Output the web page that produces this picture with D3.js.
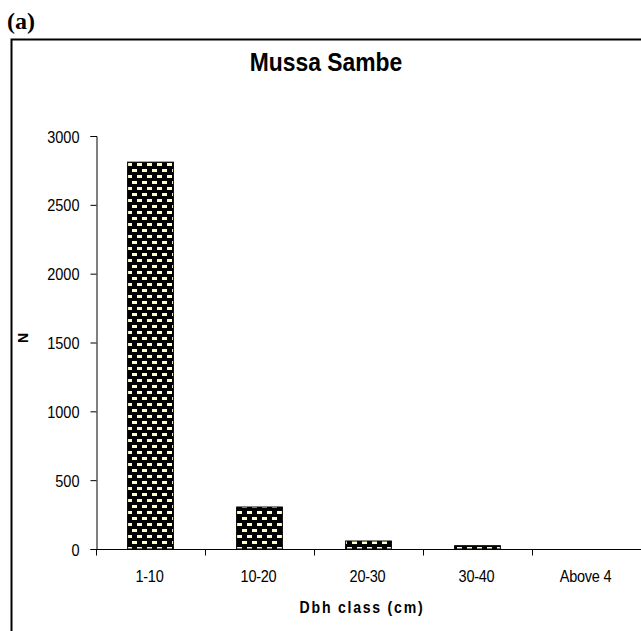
<!DOCTYPE html>
<html><head><meta charset="utf-8">
<script src="https://cdn.jsdelivr.net/npm/d3@7"></script>
<style>body{margin:0;background:#fff}svg{display:block}</style>
</head><body>
<script>
const categories = ["1-10", "10-20", "20-30", "30-40", "Above 4"];
const values = [2810, 305, 58, 24, 0];
const yTicks = [0, 500, 1000, 1500, 2000, 2500, 3000];
const title = "Mussa Sambe";
const xTitle = "Dbh class (cm)";
const yTitle = "N";
const panel = "(a)";

const W = 641, H = 631;
const SX = 0.88;
const svg = d3.select("body").append("svg").attr("width", W).attr("height", H);

function txt(parent, x, y, str, o) {
  const g = parent.append("g").attr("transform", `translate(${x},${y}) ${o.rot ? "rotate(" + o.rot + ")" : ""} scale(${o.sx == null ? SX : o.sx},1)`);
  return g.append("text").text(str)
    .attr("text-anchor", o.anchor || "middle")
    .attr("font-family", o.family || "Liberation Sans")
    .attr("font-weight", o.bold ? "bold" : "normal")
    .attr("font-size", o.size)
    .style("letter-spacing", (o.ls || 0) + "px")
    .attr("fill", "#000");
}

const defs = svg.append("defs");
const pat = defs.append("pattern").attr("id", "brick").attr("patternUnits", "userSpaceOnUse")
  .attr("width", 10).attr("height", 12);
pat.append("rect").attr("width", 10).attr("height", 12).attr("fill", "#000");
pat.append("rect").attr("x", 2).attr("y", 1).attr("width", 5).attr("height", 3).attr("fill", "#ffffcc");
pat.append("rect").attr("x", 7).attr("y", 7).attr("width", 5).attr("height", 3).attr("fill", "#ffffcc");
pat.append("rect").attr("x", -3).attr("y", 7).attr("width", 5).attr("height", 3).attr("fill", "#ffffcc");

// frame
svg.append("path").attr("d", "M11.5,660 V39.5 H660").attr("fill", "none").attr("stroke", "#000").attr("stroke-width", 2);

txt(svg, 7, 29, panel, {anchor: "start", family: "Liberation Serif", bold: true, size: 24, sx: 1});

const x0 = 96, x1 = 641, yTop = 136, yBot = 549;
const x = d3.scaleBand().domain(categories).range([x0, x0 + 109 * 5]).paddingInner(0.58).paddingOuter(0.29);
const y = d3.scaleLinear().domain([0, 3000]).range([yBot, yTop]);

txt(svg, 326, 71, title, {bold: true, size: 26});

// bars
svg.append("g").selectAll("rect").data(values).join("rect")
  .attr("x", (d, i) => x(categories[i]))
  .attr("width", x.bandwidth())
  .attr("y", d => y(d))
  .attr("height", d => yBot - y(d))
  .attr("fill", "url(#brick)")
  .attr("stroke", d => d > 0 ? "#000" : "none").attr("stroke-width", 1);

// y axis
const ya = svg.append("g").attr("transform", `translate(${x0 + 0.5},0)`)
  .call(d3.axisLeft(y).tickValues(yTicks).tickSize(6).tickFormat(""));
ya.select(".domain").attr("stroke", "#000");
ya.selectAll(".tick line").attr("stroke", "#000");
ya.selectAll(".tick").each(function(d) {
  txt(d3.select(this), -17, 6, d3.format("d")(d), {anchor: "end", size: 16.5});
});

// x axis with boundary ticks
const xa = svg.append("g").attr("transform", `translate(0,${yBot + 0.5})`);
xa.append("line").attr("x1", x0).attr("x2", x1).attr("stroke", "#000");
const bounds = d3.range(categories.length + 1).map(i => x0 + i * x.step());
xa.selectAll("line.t").data(bounds).join("line").attr("class", "t")
  .attr("x1", d => d + 0.5).attr("x2", d => d + 0.5).attr("y1", 0).attr("y2", 6).attr("stroke", "#000");
categories.forEach(c => {
  txt(xa, x(c) + x.bandwidth() / 2 - 1, 32, c, {size: 16.5, ls: -0.3});
});

txt(svg, 362, 613, xTitle, {bold: true, size: 16, ls: 2});

txt(svg, 28, 338, yTitle, {bold: true, size: 14, rot: -90, sx: 1});
</script>
</body></html>
